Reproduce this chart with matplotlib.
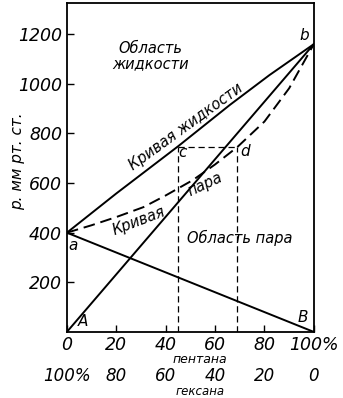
import matplotlib
matplotlib.use('Agg')
import matplotlib.pyplot as plt

# состав, % пентана
x_ends = [0, 100]
p_A_b = [0, 1160]        # прямая A-b (парциальное давление пентана)
p_a_B = [400, 0]         # прямая a-B (парциальное давление гексана)

x_liq = [0, 20, 45, 66, 82, 100]
p_liq = [400, 558, 748, 915, 1035, 1160]

x_vap = [0, 10, 20, 31, 40, 51, 60, 69, 80, 90, 100]
p_vap = [400, 430, 463, 503, 550, 612, 675, 745, 848, 982, 1160]

x_c, x_d, p_cd = 45, 69, 745

x_ticks = [0, 20, 40, 60, 80, 100]
top_labels = ['0', '20', '40', '60', '80', '100%']
bottom_labels = ['100%', '80', '60', '40', '20', '0']
y_ticks = [200, 400, 600, 800, 1000, 1200]

plt.rcParams['font.family'] = 'DejaVu Sans'
plt.rcParams['font.style'] = 'italic'

fig = plt.figure(figsize=(3.43, 3.98), dpi=100)
ax = fig.add_axes([0.195, 0.166, 0.72, 0.826])

ax.plot(x_ends, p_A_b, 'k-', lw=1.4)
ax.plot(x_ends, p_a_B, 'k-', lw=1.4)
ax.plot(x_liq, p_liq, 'k-', lw=1.4)
ax.plot(x_vap, p_vap, 'k--', lw=1.4, dashes=(6, 3))
ax.plot([x_c, x_d], [p_cd, p_cd], 'k--', lw=0.9, dashes=(5, 3))
ax.plot([x_c, x_c], [0, p_cd], 'k--', lw=0.9, dashes=(5, 3))
ax.plot([x_d, x_d], [0, p_cd], 'k--', lw=0.9, dashes=(5, 3))

ax.set_xlim(0, 100)
ax.set_ylim(0, 1325)
ax.set_xticks(x_ticks)
ax.set_xticklabels(top_labels)
ax.set_yticks(y_ticks)
ax.tick_params(direction='in', length=5, width=1, labelsize=12.5)
ax.tick_params(axis='x', pad=3)
for s in ax.spines.values():
    s.set_linewidth(1.3)

ax.set_ylabel('р. мм рт. ст.', fontsize=11)
ax.yaxis.set_label_coords(-0.17, 0.52)

fs = 10.5
ax.text(34, 1112, 'Область\nжидкости', fontsize=fs, ha='center', va='center',
        linespacing=0.95)
ax.text(70, 378, 'Область пара', fontsize=fs, ha='center', va='center')
ax.text(48, 828, 'Кривая жидкости', fontsize=fs, ha='center', va='center',
        rotation=36, rotation_mode='anchor')
ax.text(29, 448, 'Кривая', fontsize=fs, ha='center', va='center',
        rotation=21, rotation_mode='anchor')
ax.text(56, 596, 'пара', fontsize=fs, ha='center', va='center',
        rotation=25, rotation_mode='anchor')

lk = dict(fontsize=11, ha='center', va='center')
ax.text(2.5, 350, 'a', **lk)
ax.text(96, 1195, 'b', **lk)
ax.text(47, 722, 'c', **lk)
ax.text(72, 728, 'd', **lk)
ax.text(6.5, 42, 'A', **lk)
ax.text(95.5, 58, 'B', **lk)

for xt, lab in zip(x_ticks, bottom_labels):
    ax.text(xt, -0.134, lab, transform=ax.get_xaxis_transform(),
            ha='center', va='center', fontsize=12)
ax.text(54, -0.083, 'пентана', transform=ax.get_xaxis_transform(),
        ha='center', va='center', fontsize=9)
ax.text(54, -0.181, 'гексана', transform=ax.get_xaxis_transform(),
        ha='center', va='center', fontsize=8.5)

fig.savefig('out.png', dpi=100)
